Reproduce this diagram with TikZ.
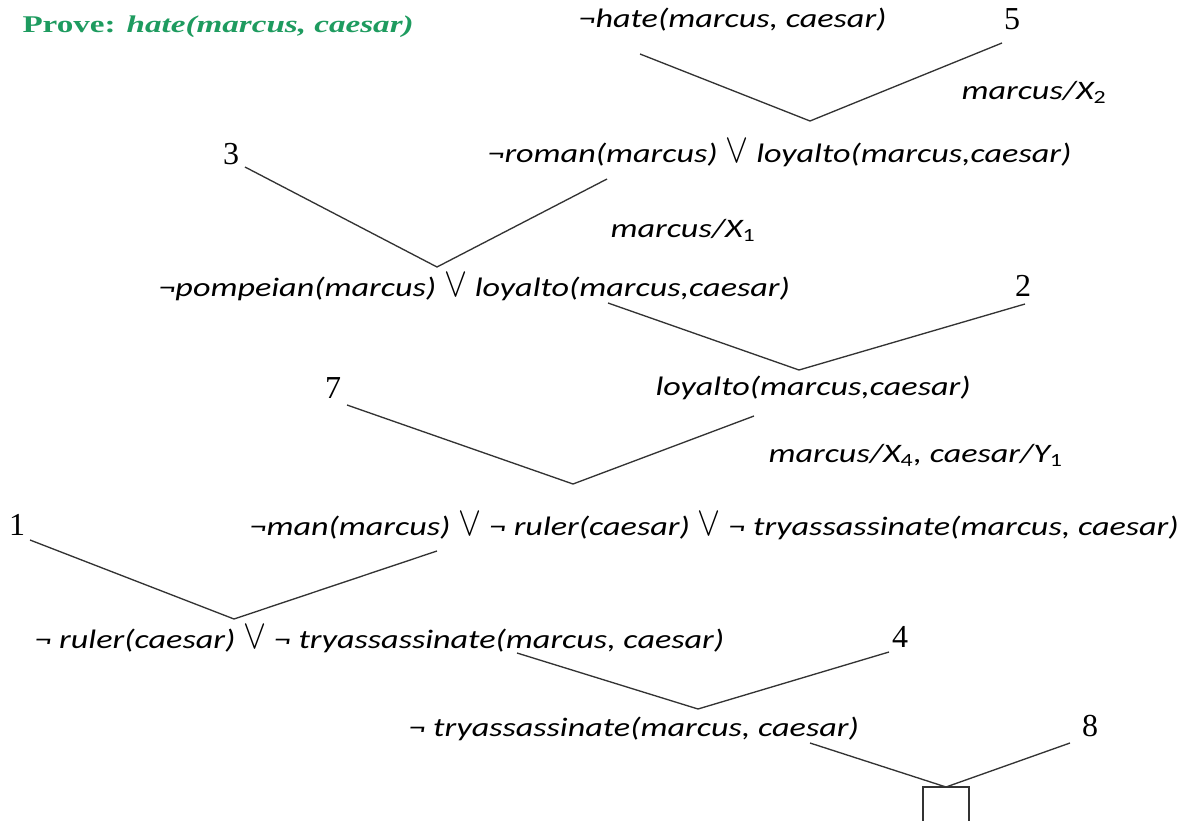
\documentclass[tikz,border=0pt]{standalone}
\usepackage{fontspec}
\setmainfont{Carlito}[FakeStretch=1.28]
\newfontfamily\numfont{Liberation Serif}
\newfontfamily\titlefont{Liberation Serif}[FakeStretch=1.38]
\definecolor{provegreen}{RGB}{30,155,95}
\newcommand{\orsym}{\scalebox{1.25}[1.5]{\(\vee\)}}

\tikzset{every picture/.style={line width=0.75pt}}
\tikzset{
  clause/.style={anchor=west, inner sep=0pt, font=\fontsize{20}{24}\selectfont\itshape},
  subst/.style={clause},
  numlbl/.style={inner sep=0pt, font=\numfont\fontsize{24}{28}\selectfont},
  title/.style={anchor=west, inner sep=0pt, text=provegreen, font=\titlefont\fontsize{18}{22}\selectfont\bfseries},
  link/.style={draw=black!80, line width=1pt},
}

\begin{document}
\begin{tikzpicture}[x=0.75pt,y=0.75pt,yscale=-1,xscale=1]
\useasboundingbox (0,0) rectangle (1189,821);
\clip (0,0) rectangle (1189,821);

% Text Node
\node (prove) [title] at (22,27) {Prove: \textit{hate(marcus, caesar)}};

% Text Node
\node (c1) [clause] at (578,20) {¬hate(marcus, caesar)};
% Text Node
\node (n5) [numlbl] at (1012,19) {5};
% Text Node
\node (s2) [subst] at (961,92) {marcus/X\textsubscript{\upshape 2}};
% Text Node
\node (c2) [clause] at (487,153) {¬roman(marcus) \orsym{} loyalto(marcus,caesar)};
% Text Node
\node (n3) [numlbl] at (231,154) {3};
% Text Node
\node (s1) [subst] at (610,230) {marcus/X\textsubscript{\upshape 1}};
% Text Node
\node (c3) [clause] at (158,287) {¬pompeian(marcus) \orsym{} loyalto(marcus,caesar)};
% Text Node
\node (n2) [numlbl] at (1023,286) {2};
% Text Node
\node (c4) [clause] at (655,388) {loyalto(marcus,caesar)};
% Text Node
\node (n7) [numlbl] at (333,388) {7};
% Text Node
\node (s4) [subst] at (768,455) {marcus/X\textsubscript{\upshape 4}, caesar/Y\textsubscript{\upshape 1}};
% Text Node
\node (c5) [clause] at (249,526) {¬man(marcus) \orsym{} ¬ ruler(caesar) \orsym{} ¬ tryassassinate(marcus, caesar)};
% Text Node
\node (n1) [numlbl] at (17,525) {1};
% Text Node
\node (c6) [clause] at (34,639) {¬ ruler(caesar) \orsym{} ¬ tryassassinate(marcus, caesar)};
% Text Node
\node (n4) [numlbl] at (900,637) {4};
% Text Node
\node (c7) [clause] at (408,729) {¬ tryassassinate(marcus, caesar)};
% Text Node
\node (n8) [numlbl] at (1090,726) {8};

%Straight Lines
\coordinate (c1a) at (640,54);
\coordinate (v1) at (810,121);
\coordinate (n5a) at (1002,43);
\draw [link] (c1a) -- (v1) -- (n5a);
%Straight Lines
\coordinate (n3a) at (245,167);
\coordinate (v2) at (437,267);
\coordinate (c2a) at (607,179);
\draw [link] (n3a) -- (v2) -- (c2a);
%Straight Lines
\coordinate (c3a) at (608,303);
\coordinate (v3) at (799,370);
\coordinate (n2a) at (1025,304);
\draw [link] (c3a) -- (v3) -- (n2a);
%Straight Lines
\coordinate (n7a) at (347,405);
\coordinate (v4) at (573,484);
\coordinate (c4a) at (754,416);
\draw [link] (n7a) -- (v4) -- (c4a);
%Straight Lines
\coordinate (n1a) at (30,540);
\coordinate (v5) at (234,619);
\coordinate (c5a) at (437,551);
\draw [link] (n1a) -- (v5) -- (c5a);
%Straight Lines
\coordinate (c6a) at (517,653);
\coordinate (v6) at (698,709);
\coordinate (n4a) at (889,652);
\draw [link] (c6a) -- (v6) -- (n4a);
%Straight Lines
\coordinate (c7a) at (810,743);
\coordinate (v7) at (946,787);
\coordinate (n8a) at (1070,743);
\draw [link] (c7a) -- (v7) -- (n8a);

%Shape: Square
\draw [link] (923,787) rectangle (969,840);

\end{tikzpicture}
\end{document}
